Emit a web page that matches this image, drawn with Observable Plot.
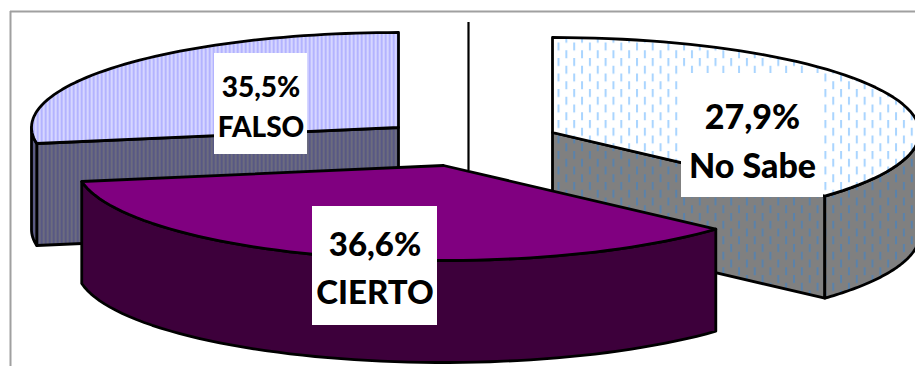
<!DOCTYPE html>
<html lang="es">
<head>
<meta charset="utf-8">
<title>Cierto, falso, no sabe</title>
<script src="https://cdn.jsdelivr.net/npm/d3@7"></script>
<script src="https://cdn.jsdelivr.net/npm/@observablehq/plot@0.6"></script>
<style>
  html, body { margin: 0; padding: 0; background: #fff; }
  svg { display: block; }
</style>
</head>
<body>
<script>
// Answers, clockwise from twelve o'clock
const answers = ["No Sabe", "CIERTO", "FALSO"];
const shares = [27.9, 36.6, 35.5];

// Drawing constants for the tilted, exploded pie
const W = 915, H = 366;
const RX = 367, RY = 95, DEPTH = 102;
const hubs = {"No Sabe": [552, 132], "CIERTO": [443, 165], "FALSO": [398, 127]};
const topFill = {"No Sabe": "url(#dotsTop)", "CIERTO": "#800080", "FALSO": "url(#stripesTop)"};
const sideFill = {"No Sabe": "url(#dotsSide)", "CIERTO": "#3d003b", "FALSO": "url(#stripesSide)"};
const paintOrder = ["No Sabe", "FALSO", "CIERTO"];

// Label boxes: left, right, top, bottom, font size, text offset
const boxes = {
  "No Sabe": [681, 823, 73, 197, 34, 2.5],
  "CIERTO": [312, 437, 206, 325, 33, -1],
  "FALSO": [214, 307, 53, 154, 28, 0]
};

// Cumulative shares in degrees, pushed through the foreshortening of the 3-D view
const total = d3.sum(shares);
const cuts = [0, ...d3.cumsum(shares).map((s) => (s / total) * 360)];
const viewAngle = d3.scaleLinear().domain(cuts).range([0, 132.1, 260.3, 360]);

const rim = (name, deg, drop = 0) => {
  const a = (deg * Math.PI) / 180;
  const [cx, cy] = hubs[name];
  return {x: cx + RX * Math.sin(a), y: cy - RY * Math.cos(a) + drop};
};
const arc = (name, from, to, drop = 0) =>
  d3.range(0, 61).map((i) => rim(name, from + ((to - from) * i) / 60, drop));

// Each visible face becomes one closed polygon; ids keep the back-to-front order
const polys = [];
let nextId = 0;
function pushPoly(fill, points) {
  const id = nextId++;
  points.concat(points[0]).forEach((p) => polys.push({x: p.x, y: p.y, id, fill}));
}

paintOrder.forEach((name) => {
  const i = answers.indexOf(name);
  const from = viewAngle(cuts[i]);
  const to = viewAngle(cuts[i + 1]);
  const [cx, cy] = hubs[name];
  const hub = {x: cx, y: cy};
  const hubLow = {x: cx, y: cy + DEPTH};
  const side = sideFill[name];

  // radial cut faces that turn towards the viewer
  if (name !== "CIERTO") {
    const c = rim(name, name === "No Sabe" ? to : from);
    pushPoly(side, [hub, c, {x: c.x, y: c.y + DEPTH}, hubLow]);
  }

  // outer wall: only the front half of the rim shows
  const a = Math.max(from, 90);
  const b = Math.min(to, 270);
  if (b > a) pushPoly(side, [...arc(name, a, b), ...arc(name, b, a, DEPTH)]);

  // top surface
  pushPoly(topFill[name], [hub, ...arc(name, from, to)]);
});

const labelRows = answers.map((name, i) => {
  const [x1, x2, y1, y2, size, shift] = boxes[name];
  return {
    name, x1, x2, y1, y2, size, shift,
    text: `${shares[i].toFixed(1).replace(".", ",")}%\n${name}`
  };
});

// Hatch fills used by the FALSO and No Sabe slices
function hatchDefs() {
  const defs = d3.create("svg:defs");
  const stripes = (id, base, line) => {
    const p = defs.append("pattern").attr("id", id).attr("patternUnits", "userSpaceOnUse")
      .attr("width", 4).attr("height", 4);
    p.append("rect").attr("width", 4).attr("height", 4).attr("fill", base);
    p.append("rect").attr("x", 2.5).attr("width", 1.5).attr("height", 4).attr("fill", line);
  };
  const dashes = (id, base, line) => {
    const p = defs.append("pattern").attr("id", id).attr("patternUnits", "userSpaceOnUse")
      .attr("x", 557).attr("y", 42).attr("width", 15.7).attr("height", 15.5);
    p.append("rect").attr("width", 15.7).attr("height", 15.5).attr("fill", base);
    p.append("rect").attr("x", 0).attr("y", 0).attr("width", 2).attr("height", 8).attr("fill", line);
    p.append("rect").attr("x", 7.85).attr("y", 7.75).attr("width", 2).attr("height", 7.75).attr("fill", line);
    p.append("rect").attr("x", 7.85).attr("y", 0).attr("width", 2).attr("height", 0.25).attr("fill", line);
  };
  stripes("stripesTop", "#b3b3ff", "#e2e2ff");
  stripes("stripesSide", "#585884", "#72727c");
  dashes("dotsTop", "#ffffff", "#aad5ff");
  dashes("dotsSide", "#808080", "#5a82aa");
  return defs.node();
}

const chart = Plot.plot({
  width: W,
  height: H,
  margin: 0,
  style: {background: "#fff", overflow: "hidden"},
  x: {domain: [0, W], range: [0, W], axis: null},
  y: {domain: [0, H], range: [0, H], axis: null},
  marks: [
    hatchDefs,
    // chart-area border along the top and left
    Plot.ruleY([11], {x1: 10, x2: W, stroke: "#a0a0a0", strokeWidth: 2}),
    Plot.ruleX([10], {y1: 11, y2: H, stroke: "#a0a0a0", strokeWidth: 2}),
    // seam between the two rear slices
    Plot.ruleX([468], {y1: 22, y2: 170, stroke: "#000", strokeWidth: 2.2}),
    // every polygon is its own series so the paint order stays back to front
    ...d3.groups(polys, (d) => d.id).map(([, pts]) =>
      Plot.line(pts, {
        x: "x", y: "y",
        fill: pts[0].fill,
        stroke: "#000",
        strokeWidth: 2.8,
        strokeLinejoin: "round",
        curve: "linear"
      })
    ),
    Plot.rect(labelRows, {x1: "x1", x2: "x2", y1: "y1", y2: "y2", fill: "#fff"}),
    ...labelRows.map((d) =>
      Plot.text([d], {
        x: (r) => (r.x1 + r.x2) / 2,
        y: (r) => (r.y1 + r.y2) / 2 + r.shift,
        text: "text",
        fontFamily: "Lato, 'Open Sans', sans-serif",
        fontWeight: 900,
        fontSize: d.size,
        lineHeight: 1.44,
        fill: "#000"
      })
    )
  ]
});
document.body.append(chart);
</script>
</body>
</html>
